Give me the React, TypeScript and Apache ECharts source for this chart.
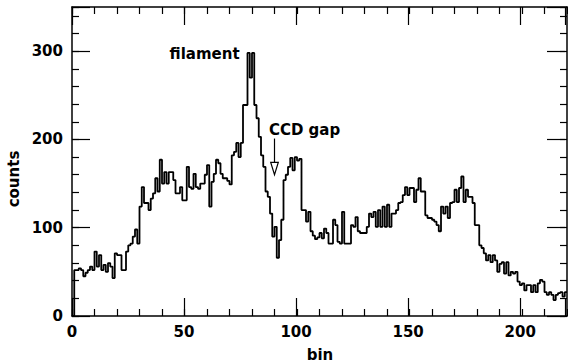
import React, { useEffect, useRef } from "react";
import * as echarts from "echarts";

// counts per bin (bin i spans [i, i+1))
const binCounts: number[] = [
  0, 52, 52, 54, 52, 45, 49, 52, 56, 52,
  73, 56, 69, 52, 58, 50, 60, 56, 43, 71,
  69, 69, 52, 52, 73, 80, 82, 90, 98, 82,
  124, 146, 128, 128, 120, 133, 139, 156, 141, 177,
  150, 163, 150, 163, 163, 154, 139, 139, 146, 131,
  131, 169, 146, 144, 161, 146, 144, 150, 150, 160,
  171, 124, 152, 161, 177, 173, 161, 156, 156, 153,
  149, 182, 186, 196, 180, 196, 239, 239, 298, 270,
  298, 239, 224, 203, 182, 169, 141, 135, 116, 90,
  101, 66, 86, 109, 154, 160, 169, 179, 165, 180,
  176, 178, 120, 120, 107, 118, 96, 91, 87, 89,
  94, 88, 99, 94, 82, 82, 109, 103, 84, 82,
  118, 82, 82, 82, 103, 101, 112, 96, 94, 94,
  94, 101, 116, 112, 118, 101, 120, 101, 124, 101,
  126, 101, 116, 116, 120, 128, 129, 137, 146, 137,
  145, 145, 129, 143, 156, 141, 141, 114, 111, 111,
  109, 107, 103, 96, 124, 116, 124, 111, 128, 129,
  143, 129, 145, 158, 129, 143, 135, 135, 128, 103,
  103, 80, 77, 71, 63, 69, 61, 69, 63, 50,
  59, 61, 48, 61, 46, 50, 48, 50, 39, 35,
  37, 29, 35, 35, 27, 35, 27, 37, 41, 39,
  27, 24, 27, 24, 18, 24, 26, 27, 22, 27,
];

const xTickLabels = [0, 50, 100, 150, 200];
const yTickLabels = [0, 100, 200, 300];
const xRange = [0, 220];
const yRange = [0, 350];

const annotationTexts = ["filament", "CCD gap"];
const annotationBins = [74.5, 87.5];
const annotationCounts = [297, 211];
const annotationAligns = ["right", "left"];

const gapArrowBin = 90;
const gapArrowFrom = 201;
const gapArrowTo = 160;
const gapArrowHead = 174;

const FONT = "'DejaVu Sans', sans-serif";

export default function App() {
  const ref = useRef<HTMLDivElement>(null);

  useEffect(() => {
    if (!ref.current) return;
    const chart = echarts.init(ref.current, undefined, { renderer: "svg" });

    const data: number[][] = binCounts.map((v, i) => [i, v]);
    data.push([binCounts.length, binCounts[binCounts.length - 1]]);

    const gridBox = { left: 72, right: 1, top: 7, bottom: 48, containLabel: false };
    const labelStyle = {
      color: "#000",
      fontFamily: FONT,
      fontSize: 15,
      fontWeight: "bold" as const,
    };

    const minorX = (position: string) => ({
      type: "value",
      gridIndex: 0,
      position,
      min: xRange[0],
      max: xRange[1],
      interval: 10,
      axisLine: { show: true, onZero: false, lineStyle: { color: "#000", width: 1.5 } },
      axisTick: { show: true, inside: true, length: 7, lineStyle: { color: "#000", width: 1.2 } },
      axisLabel: { show: false },
      splitLine: { show: false },
    });
    const majorX = (position: string, labels: boolean) => ({
      type: "value",
      gridIndex: 1,
      position,
      min: xRange[0],
      max: xRange[1],
      interval: 50,
      axisLine: { show: false, onZero: false },
      axisTick: { show: true, inside: true, length: 18, lineStyle: { color: "#000", width: 1.2 } },
      axisLabel: {
        show: labels,
        margin: 8,
        ...labelStyle,
        formatter: (v: number) => (xTickLabels.includes(v) ? String(v) : ""),
      },
      splitLine: { show: false },
    });
    const minorY = (position: string) => ({
      type: "value",
      gridIndex: 0,
      position,
      min: yRange[0],
      max: yRange[1],
      interval: 20,
      axisLine: { show: true, onZero: false, lineStyle: { color: "#000", width: 1.5 } },
      axisTick: { show: true, inside: true, length: 7, lineStyle: { color: "#000", width: 1.2 } },
      axisLabel: { show: false },
      splitLine: { show: false },
    });
    const majorY = (position: string, labels: boolean) => ({
      type: "value",
      gridIndex: 1,
      position,
      min: yRange[0],
      max: yRange[1],
      interval: 100,
      axisLine: { show: false, onZero: false },
      axisTick: { show: true, inside: true, length: 18, lineStyle: { color: "#000", width: 1.2 } },
      axisLabel: {
        show: labels,
        margin: 9,
        ...labelStyle,
        formatter: (v: number) => (yTickLabels.includes(v) ? String(v) : ""),
      },
      splitLine: { show: false },
    });

    chart.setOption({
      animation: false,
      backgroundColor: "#fff",
      grid: [gridBox, gridBox],
      xAxis: [minorX("bottom"), minorX("top"), majorX("bottom", true), majorX("top", false)],
      yAxis: [minorY("left"), minorY("right"), majorY("left", true), majorY("right", false)],
      series: [
        {
          type: "line",
          xAxisIndex: 0,
          yAxisIndex: 0,
          data,
          step: "end",
          showSymbol: false,
          symbol: "none",
          lineStyle: { color: "#000", width: 1.8 },
          silent: true,
        },
      ],
    });

    const px = (x: number, y: number) =>
      chart.convertToPixel({ gridIndex: 0 }, [x, y]) as number[];

    const elements: any[] = [];
    annotationTexts.forEach((t, i) => {
      const p = px(annotationBins[i], annotationCounts[i]);
      elements.push({
        type: "text",
        x: p[0],
        y: p[1],
        style: {
          text: t,
          fill: "#000",
          font: `bold 15px ${FONT}`,
          align: annotationAligns[i],
          verticalAlign: "middle",
        },
      });
    });
    const a0 = px(gapArrowBin, gapArrowFrom);
    const a1 = px(gapArrowBin, gapArrowHead);
    const a2 = px(gapArrowBin, gapArrowTo);
    elements.push({
      type: "line",
      shape: { x1: a0[0], y1: a0[1], x2: a1[0], y2: a1[1] },
      style: { stroke: "#000", lineWidth: 1.2 },
    });
    elements.push({
      type: "polygon",
      shape: {
        points: [
          [a1[0] - 3.8, a1[1]],
          [a1[0] + 3.8, a1[1]],
          [a2[0], a2[1]],
        ],
      },
      style: { fill: "#fff", stroke: "#000", lineWidth: 1.2 },
    });
    elements.push({
      type: "text",
      x: 320,
      y: 355,
      style: { text: "bin", fill: "#000", font: `bold 15px ${FONT}`, align: "center", verticalAlign: "middle" },
    });
    elements.push({
      type: "text",
      x: 14,
      y: 179,
      rotation: Math.PI / 2,
      style: { text: "counts", fill: "#000", font: `bold 15px ${FONT}`, align: "center", verticalAlign: "middle" },
    });

    chart.setOption({ graphic: { elements } });

    return () => chart.dispose();
  }, []);

  return (
    <div
      ref={ref}
      style={{ position: "fixed", left: 0, top: 0, width: 568, height: 364, background: "#fff" }}
    />
  );
}
